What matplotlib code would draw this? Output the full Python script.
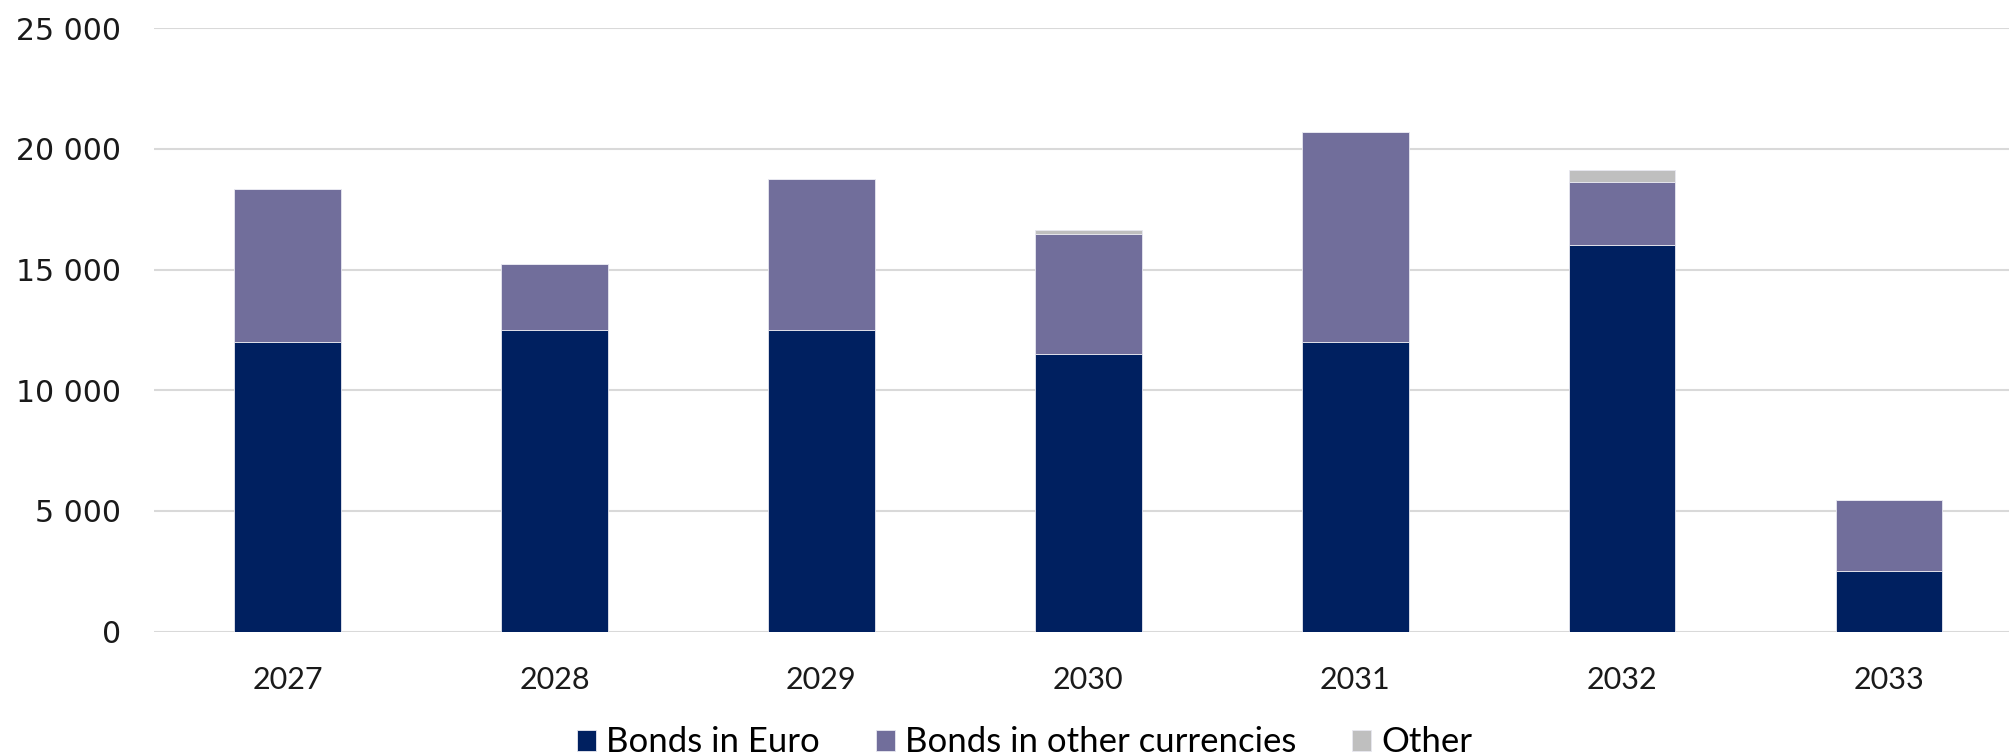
import numpy as np
import matplotlib.pyplot as plt

# Maturity profile
years = ["2027", "2028", "2029", "2030", "2031", "2032", "2033"]
bonds_euro = [12000, 12500, 12500, 11500, 12000, 16000, 2500]
bonds_other_ccy = [6350, 2750, 6250, 4980, 8700, 2640, 2970]
other = [0, 0, 0, 140, 0, 490, 0]

labels = ["Bonds in Euro", "Bonds in other currencies", "Other"]
colors = ["#002060", "#716E9B", "#BFBFBF"]

fig = plt.figure(figsize=(20.09, 7.56), dpi=100)
# the plot area runs slightly past the right edge, as in the original crop
ax = fig.add_axes([0.0767, 0.1646, 0.930, 0.7981])

x = np.arange(len(years))
width = 0.40
bottom = np.zeros(len(years))
for vals, lab, col in zip([bonds_euro, bonds_other_ccy, other], labels, colors):
    ax.bar(x, vals, width, bottom=bottom, color=col, label=lab,
           edgecolor="#E8E8F0", linewidth=0.6, zorder=3)
    bottom += np.array(vals)

ax.set_xlim(-0.5, len(years) - 0.5)
ax.set_ylim(0, 25000)
ax.set_yticks(np.arange(0, 25001, 5000))
ax.set_yticklabels([f"{v:,}".replace(",", " ") for v in range(0, 25001, 5000)],
                   fontsize=21.5, family="DejaVu Sans", color="#1a1a1a")
ax.set_xticks(x)
ax.set_xticklabels(years, fontsize=22, family="Lato", color="#1a1a1a")
ax.tick_params(axis="both", length=0)
ax.tick_params(axis="y", pad=24)
ax.tick_params(axis="x", pad=25)
ax.grid(axis="y", color="#D9D9D9", linewidth=1.5, zorder=0)
for s in ax.spines.values():
    s.set_visible(False)

handles, labs = ax.get_legend_handles_labels()
fig.legend(handles, labs, loc="center", bbox_to_anchor=(0.51, 0.018), ncol=3,
           frameon=False, prop={"family": "Lato", "size": 25},
           handlelength=0.55, handleheight=0.55, handletextpad=0.3, columnspacing=1.6)

fig.savefig("out.png", dpi=100)
